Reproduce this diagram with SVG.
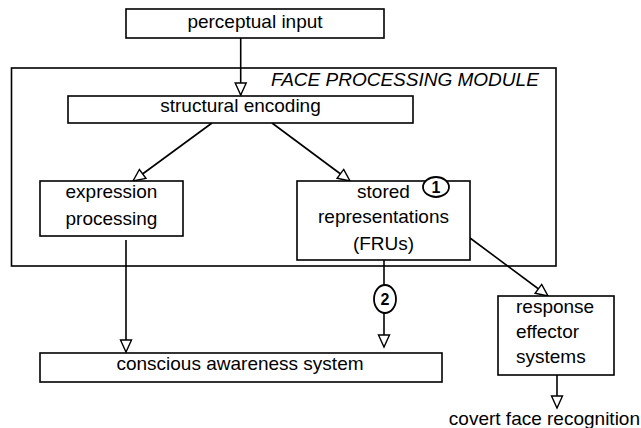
<svg xmlns="http://www.w3.org/2000/svg" width="641" height="428" viewBox="0 0 641 428">
  <defs>
    <marker id="arr" markerUnits="userSpaceOnUse" markerWidth="16" markerHeight="16" viewBox="-14 -8 16 16" refX="0" refY="0" orient="auto">
      <path d="M-12,-5.5 L0,0 L-12,5.5 Z" fill="#fff" stroke="#000" stroke-width="1.4"/>
    </marker>
  </defs>
  <style>
    .box { fill: #fff; stroke: #000; stroke-width: 1.6; }
    .frame { fill: none; stroke: #000; stroke-width: 1.6; }
    .t { font-family: "Liberation Sans", Arial, sans-serif; font-size: 19px; fill: #000; }
    .c { text-anchor: middle; }
    .conn { fill: none; stroke: #000; stroke-width: 1.6; marker-end: url(#arr); }
    .num { fill: #fff; stroke: #000; stroke-width: 1.8; }
    .n { font-family: "Liberation Sans", Arial, sans-serif; font-size: 16px; font-weight: bold; text-anchor: middle; }
  </style>
  <rect width="641" height="428" fill="#fff"/>

  <g id="face-processing-module">
    <rect class="frame" x="11.5" y="68" width="544.5" height="198"/>
    <text class="t" x="271" y="86" font-style="italic">FACE PROCESSING MODULE</text>
  </g>

  <g id="connectors">
    <line class="conn" x1="240.7" y1="38" x2="240.7" y2="95"/>
    <line class="conn" x1="212" y1="123" x2="133" y2="181"/>
    <line class="conn" x1="272" y1="123" x2="350" y2="181"/>
    <line class="conn" x1="126" y1="240" x2="126" y2="352"/>
    <line class="conn" x1="384" y1="260" x2="384" y2="347"/>
    <line class="conn" x1="470" y1="238" x2="548" y2="296"/>
    <line class="conn" x1="557" y1="375" x2="557" y2="408"/>
  </g>

  <g id="perceptual-input">
    <rect class="box" x="126" y="9" width="258" height="29"/>
    <text class="t c" x="255" y="28">perceptual input</text>
  </g>

  <g id="structural-encoding">
    <rect class="box" x="68" y="96" width="345" height="27"/>
    <text class="t c" x="240.5" y="112">structural encoding</text>
  </g>

  <g id="expression-processing">
    <rect class="box" x="40" y="181" width="143" height="55"/>
    <text class="t c" x="111.5" y="198">expression</text>
    <text class="t c" x="111.5" y="225">processing</text>
  </g>

  <g id="stored-representations">
    <rect class="box" x="297" y="181" width="173" height="79"/>
    <text class="t c" x="383.5" y="198">stored</text>
    <text class="t c" x="383.5" y="223">representations</text>
    <text class="t c" x="383.5" y="250">(FRUs)</text>
  </g>

  <g id="marker-1">
    <ellipse class="num" cx="436" cy="187" rx="13" ry="10"/>
    <text class="n" x="436" y="193">1</text>
  </g>

  <g id="marker-2">
    <ellipse class="num" cx="385" cy="299" rx="11" ry="14"/>
    <text class="n" x="385" y="305">2</text>
  </g>

  <g id="conscious-awareness-system">
    <rect class="box" x="40" y="353" width="402" height="29"/>
    <text class="t c" x="240" y="370">conscious awareness system</text>
  </g>

  <g id="response-effector-systems">
    <rect class="box" x="498" y="296" width="116" height="79"/>
    <text class="t" x="516" y="313">response</text>
    <text class="t" x="516" y="338">effector</text>
    <text class="t" x="516" y="363">systems</text>
  </g>

  <g id="covert-face-recognition">
    <text class="t" x="640" y="425" text-anchor="end">covert face recognition</text>
  </g>
</svg>
